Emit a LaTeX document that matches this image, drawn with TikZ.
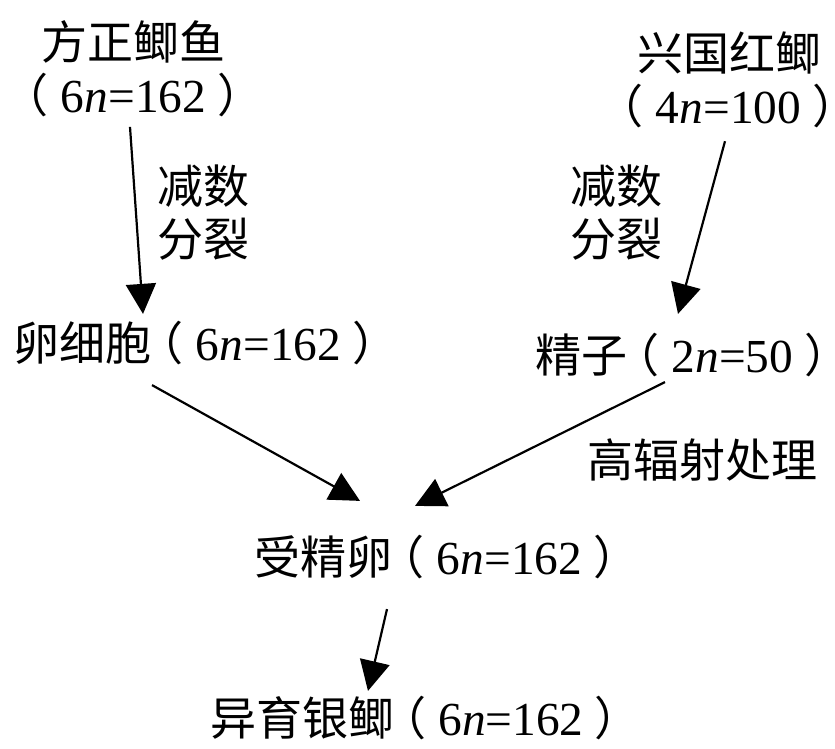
\documentclass[tikz,border=0pt]{standalone}
\usepackage{fontspec}
\setmainfont{Liberation Serif}[Scale=1.03]
\newfontfamily\cjk{Noto Sans CJK SC}
\usetikzlibrary{arrows.meta}
\newcommand{\zh}[1]{{\cjk #1}}
% full-width brackets, trimmed
\newcommand{\lp}{\hspace{-14pt}\zh{（}\hspace{12pt}}
\newcommand{\lpfirst}{\hspace*{-27pt}\zh{（}\hspace{12pt}}
\newcommand{\rp}{\hspace{11pt}\zh{）}\kern-25pt}
\tikzset{
  lbl/.style={inner sep=3pt, font=\fontsize{46}{53}\selectfont},
  twoline/.style={lbl, align=center},
  arr/.style={-{Triangle[length=30pt,width=30pt]}, line width=2.2pt},
}

\begin{document}
\begin{tikzpicture}[x=1pt,y=-1pt]
  \useasboundingbox (0,0) rectangle (835,749);
  % parents
  \node (fangzheng) at (134,69) [twoline] {\zh{方正鲫鱼}\\\lpfirst6\textit{n}=162\rp};
  \node (xingguo) at (729,80) [twoline] {\zh{兴国红鲫}\\\lpfirst4\textit{n}=100\rp};
  % gametes
  \node (egg) at (193.5,343) [lbl] {\zh{卵细胞}\lp6\textit{n}=162\rp};
  \node (sperm) at (680.5,355) [lbl] {\zh{精子}\lp2\textit{n}=50\rp};
  \node (zygote) at (434.5,557) [lbl] {\zh{受精卵}\lp6\textit{n}=162\rp};
  \node (hybrid) at (413,718) [lbl] {\zh{异育银鲫}\lp6\textit{n}=162\rp};
  % process labels
  \node (meiosisl) at (203,213) [twoline] {\zh{减数}\\\zh{分裂}};
  \node (meiosisr) at (616,213) [twoline] {\zh{减数}\\\zh{分裂}};
  \node (radiation) at (702,460) [lbl] {\zh{高辐射处理}};

  \draw[arr] ([xshift=-4pt,yshift=-6.5pt]fangzheng.south) -- ([xshift=-50.5pt,yshift=4pt]egg.north);
  \draw[arr] ([xshift=-4pt,yshift=-10pt]xingguo.south) -- ([xshift=-2.5pt,yshift=16pt]sperm.north);
  \draw[arr] ([xshift=-41.5pt,yshift=-17pt]egg.south) -- ([xshift=-74.5pt,yshift=31pt]zygote.north);
  \draw[arr] ([xshift=-15.5pt,yshift=-2pt]sperm.south) -- ([xshift=-19.5pt,yshift=26pt]zygote.north);
  \draw[arr] ([xshift=-47.5pt,yshift=-27pt]zygote.south) -- ([xshift=-45pt,yshift=2pt]hybrid.north);
\end{tikzpicture}
\end{document}
